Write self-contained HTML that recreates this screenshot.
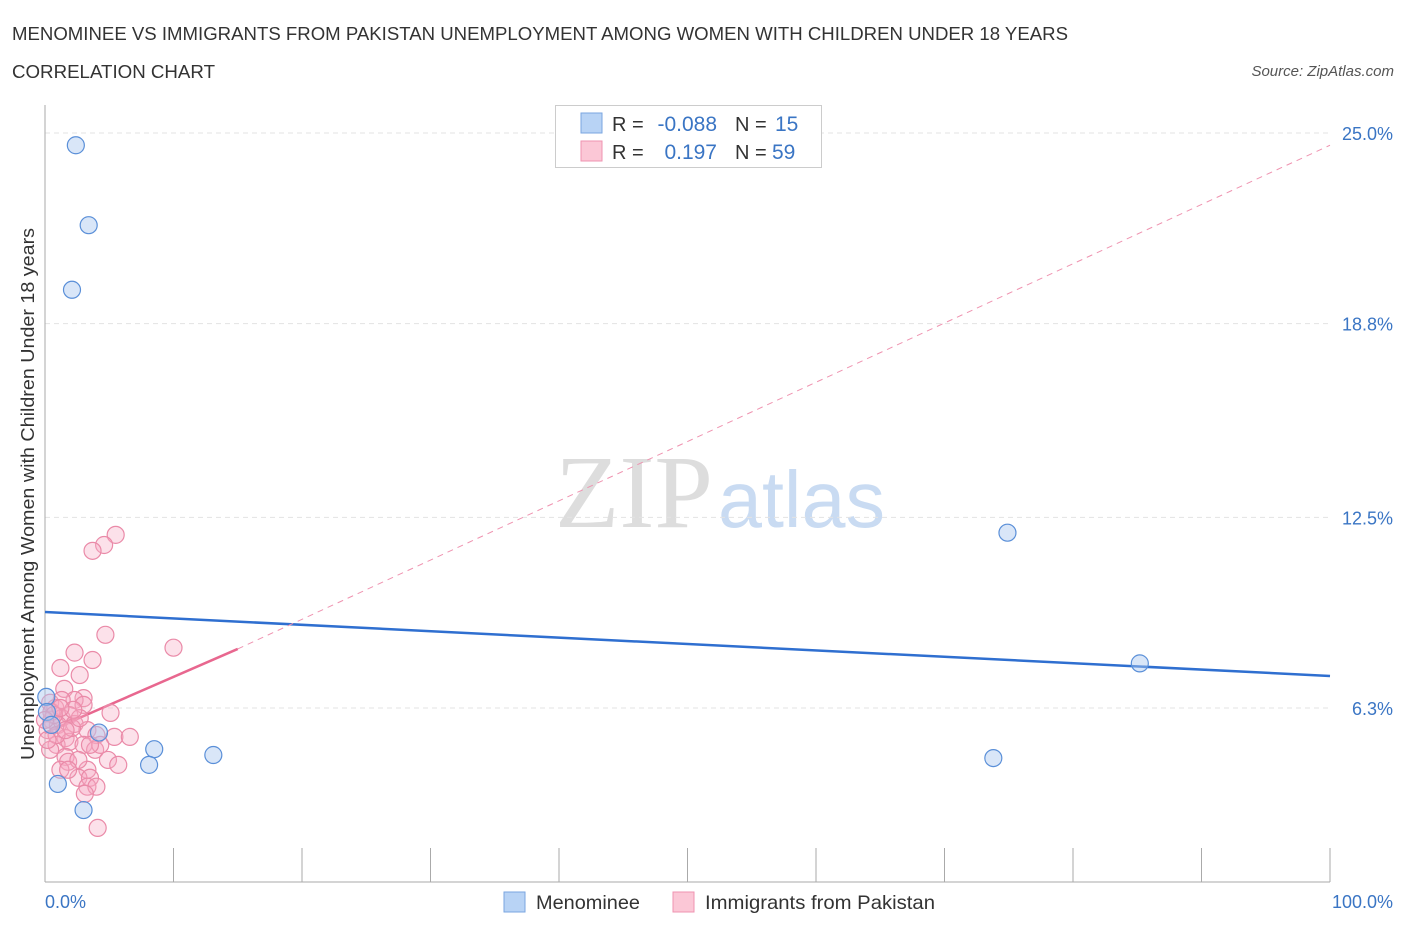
<!DOCTYPE html>
<html><head><meta charset="utf-8"><style>
body{margin:0;background:#fff;font-family:"Liberation Sans",sans-serif;}
svg text{font-family:"Liberation Sans",sans-serif;}
</style></head><body>
<svg id="chart" width="1406" height="930">
<text x="12" y="40" font-size="18.5" fill="#333" textLength="1056" lengthAdjust="spacingAndGlyphs">MENOMINEE VS IMMIGRANTS FROM PAKISTAN UNEMPLOYMENT AMONG WOMEN WITH CHILDREN UNDER 18 YEARS</text>
<text x="12" y="78" font-size="18.5" fill="#333" textLength="203" lengthAdjust="spacingAndGlyphs">CORRELATION CHART</text>
<text x="1394" y="76" font-size="15" fill="#555" font-style="italic" text-anchor="end">Source: ZipAtlas.com</text>
<g>
<text x="555" y="527" font-size="104" fill="#ddd" textLength="158" lengthAdjust="spacingAndGlyphs" style="font-family:'Liberation Serif',serif">ZIP</text>
<text x="718" y="527" font-size="80" fill="#c9dbf2" textLength="167" lengthAdjust="spacingAndGlyphs">atlas</text>
</g>
<g id="grid"></g><g id="axes"></g><g id="lines"></g><g id="marks"></g>
<text transform="translate(34,494) rotate(-90)" font-size="18" fill="#333" text-anchor="middle" textLength="532" lengthAdjust="spacingAndGlyphs">Unemployment Among Women with Children Under 18 years</text>
<text x="45" y="908" font-size="18" fill="#3a75c4">0.0%</text>
<text x="1393" y="908" font-size="18" fill="#3a75c4" text-anchor="end">100.0%</text>
<g>
<rect x="555.5" y="105.5" width="266" height="62" fill="#fff" stroke="#ccc"/>
<rect x="581" y="113" width="21" height="20" fill="#b8d3f5" stroke="#7aa6e0"/>
<rect x="581" y="141" width="21" height="20" fill="#fbc7d6" stroke="#ef93b0"/>
<text x="612" y="131" font-size="20" fill="#333">R =</text>
<text x="717" y="131" font-size="21" fill="#3a75c4" text-anchor="end">-0.088</text>
<text x="735" y="131" font-size="20" fill="#333">N =</text>
<text x="775" y="131" font-size="21" fill="#3a75c4">15</text>
<text x="612" y="159" font-size="20" fill="#333">R =</text>
<text x="717" y="159" font-size="21" fill="#3a75c4" text-anchor="end">0.197</text>
<text x="735" y="159" font-size="20" fill="#333">N =</text>
<text x="772" y="159" font-size="21" fill="#3a75c4">59</text>
</g>
<g>
<rect x="504" y="892" width="21" height="20" fill="#b8d3f5" stroke="#7aa6e0"/>
<text x="536" y="909" font-size="19.5" fill="#333" textLength="104" lengthAdjust="spacingAndGlyphs">Menominee</text>
<rect x="673" y="892" width="21" height="20" fill="#fbc7d6" stroke="#ef93b0"/>
<text x="705" y="909" font-size="19.5" fill="#333" textLength="230" lengthAdjust="spacingAndGlyphs">Immigrants from Pakistan</text>
</g>
</svg>
<script>
const yTicks=[25.0,18.8,12.5,6.3];
const yTickLabels=["25.0%","18.8%","12.5%","6.3%"];
const xTicks=[0,10,20,30,40,50,60,70,80,90,100];
const blueX=[2.4,3.4,2.1,74.9,85.2,73.8,4.2,8.5,8.1,13.1,1.0,3.0,0.1,0.15,0.5];
const blueY=[24.6,22.0,19.9,12.0,7.75,4.67,5.5,4.96,4.45,4.77,3.83,2.98,6.66,6.17,5.75];
const pinkX=[5.5,4.6,3.7,4.7,10.0,2.3,3.7,1.2,2.7,1.5,3.0,2.3,0.4,3.0,5.1,0.8,1.3,0.5,1.9,1.0,2.3,0.2,1.6,3.3,4.0,5.4,6.6,0.9,1.9,3.0,3.9,0.4,1.6,4.9,5.7,1.8,1.2,3.3,2.6,3.5,3.3,4.0,3.1,4.1,0.5,0.9,1.3,2.1,2.7,0.2,4.3,2.2,1.6,0.7,1.2,0,3.5,2.6,1.8];
const pinkY=[11.93,11.6,11.41,8.68,8.26,8.1,7.86,7.6,7.37,6.92,6.62,6.56,6.47,6.4,6.14,6.3,5.97,5.91,6.07,5.75,5.78,5.58,5.32,5.58,5.42,5.36,5.36,5.1,5.2,5.1,4.94,4.94,4.71,4.61,4.45,4.55,4.29,4.29,4.03,4.03,3.74,3.74,3.51,2.4,6.17,5.42,6.56,5.65,5.97,5.26,5.1,6.24,5.58,6.07,6.3,5.91,5.1,4.61,4.29];
const blueTrend=[9.42,7.34];
const pinkTrend=[5.49,8.22];
const pinkTrendEnd=15;
const pinkDashEnd=24.6;
const NS="http://www.w3.org/2000/svg";
function sx(v){return 45+v*12.85;}
function sy(v){return 901.7-v*30.75;}
function mk(t,a,p){const e=document.createElementNS(NS,t);for(const k in a)e.setAttribute(k,a[k]);p.appendChild(e);return e;}
const grid=document.getElementById('grid'),axes=document.getElementById('axes'),lines=document.getElementById('lines'),marks=document.getElementById('marks');
yTicks.forEach((t,i)=>{
 const l=mk('line',{x1:45,x2:1330,y1:sy(t),y2:sy(t),stroke:'#e3e3e3','stroke-dasharray':'5,4'},grid);
 
 
 const tx=mk('text',{x:1393,y:sy(t)+7,'font-size':18,fill:'#3a75c4','text-anchor':'end'},grid);
 tx.textContent=yTickLabels[i];
 
 
});
const ya=mk('line',{x1:45,x2:45,y1:105,y2:882,stroke:'#aaa'},axes);


const xa=mk('line',{x1:45,x2:1330,y1:882,y2:882,stroke:'#aaa'},axes);


xTicks.forEach(t=>{
 const l=mk('line',{x1:sx(t),x2:sx(t),y1:848,y2:882,stroke:'#aaa'},axes);
 
 
});
const bl=mk('line',{x1:sx(0),y1:sy(blueTrend[0]),x2:sx(100),y2:sy(blueTrend[1]),stroke:'#2f6fd0','stroke-width':2.5},lines);


const pd=mk('line',{x1:sx(pinkTrendEnd),y1:sy(pinkTrend[1]),x2:sx(100),y2:sy(pinkDashEnd),stroke:'#ef93b0','stroke-width':1,'stroke-dasharray':'6,5'},lines);


const pl=mk('line',{x1:sx(0),y1:sy(pinkTrend[0]),x2:sx(pinkTrendEnd),y2:sy(pinkTrend[1]),stroke:'#e8678f','stroke-width':2.5},lines);


pinkX.forEach((x,i)=>{
 const c=mk('circle',{cx:sx(x),cy:sy(pinkY[i]),r:8.5,fill:'rgba(246,170,194,0.35)',stroke:'#ea8aa8','stroke-width':1.2},marks);
 
 
});
blueX.forEach((x,i)=>{
 const c=mk('circle',{cx:sx(x),cy:sy(blueY[i]),r:8.5,fill:'rgba(170,200,240,0.45)',stroke:'#5a8fd8','stroke-width':1.2},marks);
 
 
});
</script>
</body></html>
